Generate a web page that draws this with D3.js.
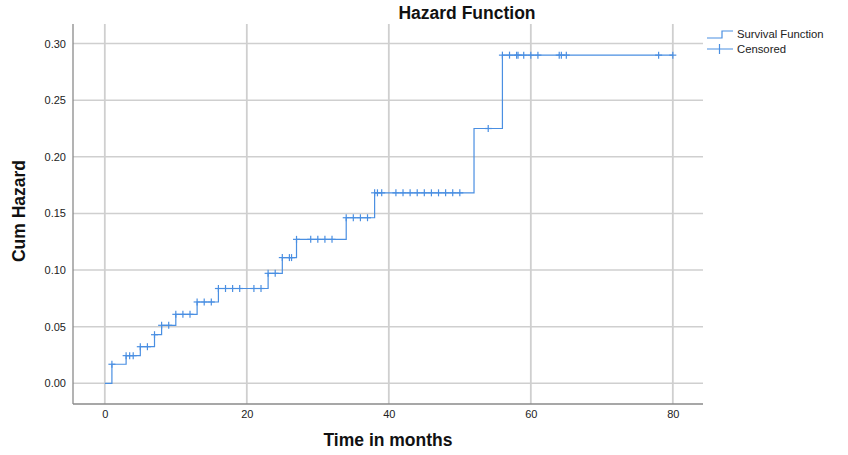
<!DOCTYPE html>
<html><head><meta charset="utf-8">
<script src="https://cdn.jsdelivr.net/npm/d3@7/dist/d3.min.js"></script>
<style>
body{margin:0;background:#fff;}
svg{display:block;font-family:"Liberation Sans",Arial,sans-serif;}
</style></head>
<body><svg id="c" width="848" height="455"></svg>
<script>
// Step function: event times and cumulative hazard after each event
const eventTimes = [0, 1, 3, 5, 7, 8, 10, 13, 16, 23, 25, 27, 34, 38, 52, 56];
const cumHazard  = [0, 0.0168, 0.0244, 0.0323, 0.0429, 0.0512, 0.0609, 0.0718, 0.0837, 0.0971, 0.111, 0.1271, 0.1462, 0.1682, 0.225, 0.2898];
const lastTime = 80;
// Censored observation times
const censoredTimes = [1, 3, 3.5, 4, 5, 6, 7, 8, 9, 10, 11, 12, 13, 14, 15, 16, 17, 18, 19, 21, 22,
  23, 24, 25, 26, 26.3, 27, 29, 30, 31, 32, 34, 35, 36, 37, 38, 38.4, 39,
  41, 42, 43, 44, 45, 46, 47, 48, 49, 50, 54, 56, 57, 58, 58.2, 59, 60, 61, 64, 64.3, 65, 78, 80];
const xTicks = [0, 20, 40, 60, 80];
const yTicks = [0, 0.05, 0.10, 0.15, 0.20, 0.25, 0.30];

const svg = d3.select("#c");
const L = 73, R = 703, T = 24, B = 404;
const x = d3.scaleLinear().domain([-4.48, 84.25]).range([L, R]);
const y = d3.scaleLinear().domain([-0.0183, 0.3173]).range([B, T]);
const blue = "#4a8fe2";

// gridlines
svg.append("g").selectAll("line").data(yTicks).join("line")
  .attr("x1", L).attr("x2", R).attr("y1", d => y(d)).attr("y2", d => y(d))
  .attr("stroke", "#cfcfcf").attr("stroke-width", 1.5);
svg.append("g").selectAll("line").data(xTicks).join("line")
  .attr("y1", T).attr("y2", B).attr("x1", d => x(d)).attr("x2", d => x(d))
  .attr("stroke", "#cfcfcf").attr("stroke-width", 1.8);

// axes
const xAxis = svg.append("g").attr("transform", `translate(0,${B})`)
  .call(d3.axisBottom(x).tickValues(xTicks).tickSize(0).tickPadding(6).tickFormat(d3.format("d")));
const yAxis = svg.append("g").attr("transform", `translate(${L},0)`)
  .call(d3.axisLeft(y).tickValues(yTicks).tickSize(0).tickPadding(7).tickFormat(d3.format(".2f")));
[xAxis, yAxis].forEach(a => {
  a.select(".domain").attr("stroke", "#8a8a8a").attr("stroke-width", 1.3);
  a.selectAll("text").attr("font-size", 11).attr("fill", "#222").attr("font-family", "Liberation Sans, Arial, sans-serif");
});
xAxis.select(".domain").attr("d", `M${L},0H${R}`);
yAxis.select(".domain").attr("d", `M0,${T}V${B}`);

// step line
const pts = eventTimes.map((t, i) => [t, cumHazard[i]]);
pts.push([lastTime, cumHazard[cumHazard.length - 1]]);
const line = d3.line().x(d => x(d[0])).y(d => y(d[1])).curve(d3.curveStepAfter);
svg.append("path").datum(pts).attr("d", line)
  .attr("fill", "none").attr("stroke", blue).attr("stroke-width", 1.2);

// censored markers
const hAt = t => { let h = 0; eventTimes.forEach((e, i) => { if (e <= t) h = cumHazard[i]; }); return h; };
const cg = svg.append("g").attr("stroke", blue).attr("stroke-width", 1.2);
censoredTimes.forEach(t => {
  const cx = x(t), cy = y(hAt(t));
  cg.append("line").attr("x1", cx).attr("x2", cx).attr("y1", cy - 3.5).attr("y2", cy + 3.5);
  cg.append("line").attr("x1", cx - 3.5).attr("x2", cx + 3.5).attr("y1", cy).attr("y2", cy);
});

// titles
svg.append("text").attr("x", 467).attr("y", 19).attr("text-anchor", "middle")
  .attr("font-size", 17.5).attr("font-weight", "bold").attr("fill", "#111").text("Hazard Function");
svg.append("text").attr("x", 388).attr("y", 446).attr("text-anchor", "middle")
  .attr("font-size", 17.5).attr("font-weight", "bold").attr("fill", "#111").text("Time in months");
svg.append("text").attr("transform", "translate(25,211) rotate(-90)").attr("text-anchor", "middle")
  .attr("font-size", 17.5).attr("font-weight", "bold").attr("fill", "#111").text("Cum Hazard");

// legend
const lg = svg.append("g");
lg.append("path").attr("d", "M707,38H722V31H733").attr("fill", "none").attr("stroke", blue).attr("stroke-width", 1.2);
lg.append("path").attr("d", "M707,49H733M719.5,44V54").attr("fill", "none").attr("stroke", blue).attr("stroke-width", 1.2);
lg.append("text").attr("x", 737).attr("y", 38).attr("font-size", 11.3).attr("fill", "#222").text("Survival Function");
lg.append("text").attr("x", 737).attr("y", 53).attr("font-size", 11.3).attr("fill", "#222").text("Censored");
</script></body></html>
